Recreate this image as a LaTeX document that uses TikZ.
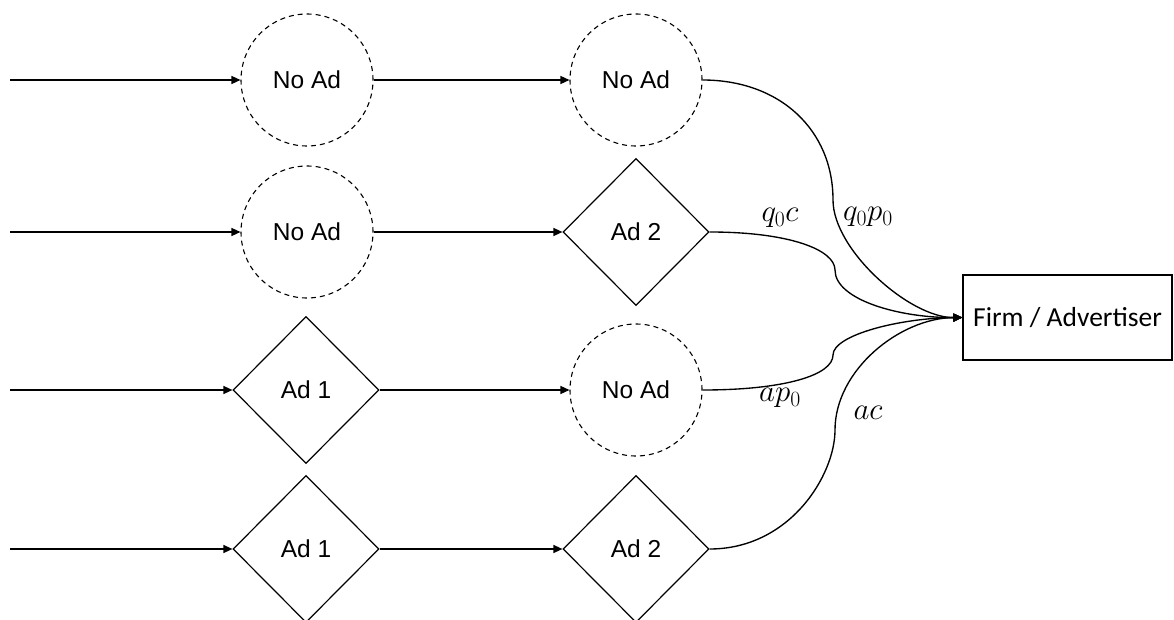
\RequirePackage{fix-cm}
\documentclass[tikz,border=0pt]{standalone}
\usepackage{fontspec}
\setmainfont{Liberation Sans}
\newfontfamily\boxfont{Carlito}
\usetikzlibrary{arrows.meta,shapes.geometric}

\begin{document}
\begin{tikzpicture}[x=1pt,y=-1pt,
    every node/.style={font=\fontsize{24.5}{28}\selectfont},
    noad/.style={circle,draw,dashed,dash pattern=on 5pt off 4pt,line width=1.1pt,
                 minimum size=132pt,inner sep=0pt},
    adbox/.style={diamond,draw,line width=1.2pt,minimum width=146pt,
                  minimum height=147pt,inner sep=0pt},
    firmbox/.style={rectangle,draw,line width=1.2pt,minimum width=209pt,
                    minimum height=85pt,inner sep=0pt,
                    font=\boxfont\fontsize{27.5}{31}\selectfont},
    flow/.style={line width=1.35pt,-{Triangle[length=9pt,width=8pt]}},
    pay/.style={font=\fontsize{31}{35}\selectfont}
  ]
  \useasboundingbox (0,0) rectangle (1174,620);

  % first stage
  \node[noad]  (a1) at (307,80)  {No Ad};
  \node[noad]  (a2) at (307,232) {No Ad};
  \node[adbox] (a3) at (306,390) {Ad 1};
  \node[adbox] (a4) at (306,549) {Ad 1};

  % second stage
  \node[noad]  (b1) at (636,80)  {No Ad};
  \node[adbox] (b2) at (636,232) {Ad 2};
  \node[noad]  (b3) at (636,390) {No Ad};
  \node[adbox] (b4) at (636,549) {Ad 2};

  \node[firmbox] (firm) at (1067.5,317.5) {Firm / Advertiser};

  % incoming users
  \coordinate (s1) at (10,80);
  \coordinate (s2) at (10,232);
  \coordinate (s3) at (10,390);
  \coordinate (s4) at (10,549);

  \foreach \i in {1,...,4} {
    \draw[flow] (s\i) -- (a\i.west);
    \draw[flow] (a\i.east) -- (b\i.west);
  }

  % payoffs to the firm
  \draw[flow] (b1.east) .. controls (780,80) and (833,130) .. (833,200)
              .. controls (833,250) and (910,318) .. (firm.west);
  \draw[flow] (b2.east) .. controls (790,232) and (835,250) .. (835,270)
              .. controls (835,300) and (900,318) .. (firm.west);
  \draw[flow] (b3.east) .. controls (785,390) and (833,375) .. (833,355)
              .. controls (833,335) and (900,318) .. (firm.west);
  \draw[flow] (b4.east) .. controls (790,549) and (835,475) .. (835,430)
              .. controls (835,370) and (900,318) .. (firm.west);

  \node[pay] (l1) at (868,217) {$q_0p_0$};
  \node[pay] (l2) at (780,218) {$q_0c$};
  \node[pay] (l3) at (780,398) {$ap_0$};
  \node[pay] (l4) at (868,413) {$ac$};
\end{tikzpicture}
\end{document}
